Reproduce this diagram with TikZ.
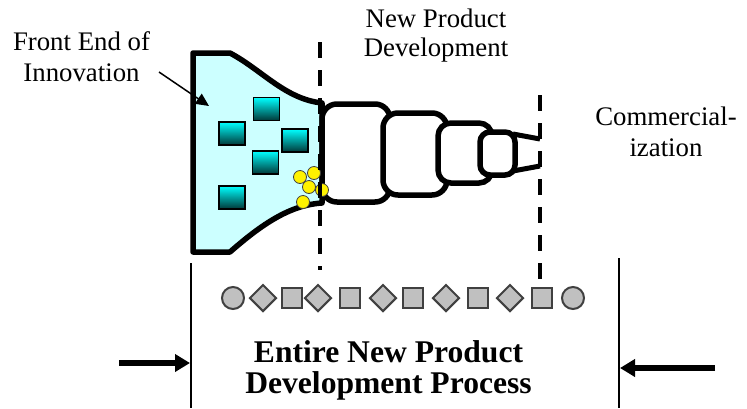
\documentclass[tikz,border=0pt]{standalone}
\usepackage{fontspec}
\setmainfont{Liberation Serif}
\usetikzlibrary{shapes.geometric,arrows.meta}
\definecolor{funnelfill}{RGB}{204,255,255}
\definecolor{tealtop}{RGB}{0,255,255}
\definecolor{tealbot}{RGB}{0,55,55}
\definecolor{shapegray}{RGB}{192,192,192}
\definecolor{shapeedge}{RGB}{64,64,64}
\tikzset{
  lbl/.style={font=\fontsize{26.8}{31}\selectfont, inner sep=0pt, anchor=base},
  biglbl/.style={font=\fontsize{31.6}{36}\selectfont\bfseries, inner sep=0pt, anchor=base},
  stagebox/.style={draw=black, fill=white, line width=5.5pt, rounded corners=15pt},
  tealsq/.style={rectangle, draw=black, line width=1.2pt, minimum width=26pt, minimum height=23pt, inner sep=0pt, top color=tealtop, bottom color=tealbot},
  idea/.style={circle, draw=shapeedge, line width=0.8pt, fill=yellow, minimum size=13pt, inner sep=0pt},
  gshape/.style={draw=shapeedge, fill=shapegray, line width=2pt, inner sep=0pt},
  gcirc/.style={gshape, circle, minimum size=22pt},
  gsq/.style={gshape, rectangle, minimum size=19.5pt},
  gdia/.style={gshape, diamond, minimum size=27pt},
  gate/.style={line width=3.5pt, dash pattern=on 16pt off 12pt},
  bigarrow/.style={line width=6pt, -{Triangle[length=15pt,width=17pt]}},
  thinline/.style={line width=1.5pt}
}
\begin{document}
\begin{tikzpicture}[x=1pt,y=-1pt]
\useasboundingbox (0,0) rectangle (747,408);

% funnel
\draw[fill=funnelfill, line width=5.5pt, line join=round]
  (193,53) -- (230,53) .. controls (262,70) and (285,99) .. (322,103)
  -- (322,203) .. controls (290,205) and (262,224) .. (230,252)
  -- (193,252) -- cycle;

% teal squares
\node[tealsq] (q1) at (266.5,109) {};
\node[tealsq] (q2) at (232,133.5) {};
\node[tealsq] (q3) at (295,140.5) {};
\node[tealsq] (q4) at (265.5,162.5) {};
\node[tealsq] (q5) at (232,197.5) {};

% development stages
\draw[stagebox] (322,104) rectangle (390,202);
\draw[stagebox] (383,113) rectangle (447,195);
\draw[stagebox, rounded corners=13pt] (438,123) rectangle (492,183);
\draw[stagebox, rounded corners=10pt] (480,132) rectangle (515,175);
\coordinate (st1) at (513,134);
\coordinate (st2) at (540,139);
\coordinate (st3) at (513,171);
\coordinate (st4) at (540,166);
\draw[line width=5pt] (st1) -- (st2);
\draw[line width=5pt] (st3) -- (st4);

% ideas
\node[idea] (y1) at (300,177) {};
\node[idea] (y2) at (314,173) {};
\node[idea] (y3) at (309,187) {};
\node[idea] (y4) at (322,190) {};
\node[idea] (y5) at (303,202) {};

% gates
\coordinate (g1t) at (320,42);
\coordinate (g1b) at (320,270);
\coordinate (g2t) at (540,95);
\coordinate (g2b) at (540,280);
\draw[gate] (g1t) -- (g1b);
\draw[gate] (g2t) -- (g2b);

% labels
\node[lbl] (fe1) at (81.5,50) {Front End of};
\node[lbl] (fe2) at (81.5,81) {Innovation};
\node[lbl] (np1) at (436,27) {New Product};
\node[lbl] (np2) at (436,56) {Development};
\node[lbl] (cm1) at (666,125) {Commercial-};
\node[lbl] (cm2) at (666,156) {ization};
\coordinate (ptrS) at (159,72);
\coordinate (ptrE) at (209,106);
\draw[thinline, -{Triangle[length=13pt,width=12pt]}] (ptrS) -- (ptrE);

% shape row
\node[gcirc] (r1) at (233,298) {};
\node[gdia] (r2) at (263,298) {};
\node[gsq] (r3) at (292,298) {};
\node[gdia] (r4) at (318,298) {};
\node[gsq] (r5) at (350,298) {};
\node[gdia] (r6) at (383,298) {};
\node[gsq] (r7) at (413,298) {};
\node[gdia] (r8) at (446,298) {};
\node[gsq] (r9) at (478,298) {};
\node[gdia] (r10) at (510,298) {};
\node[gsq] (r11) at (542,298) {};
\node[gcirc] (r12) at (573,298) {};

% bounds
\coordinate (lbT) at (191,263);
\coordinate (lbB) at (191,408);
\coordinate (rbT) at (619,258);
\coordinate (rbB) at (619,408);
\draw[thinline] (lbT) -- (lbB);
\draw[thinline] (rbT) -- (rbB);
\coordinate (laS) at (119,363);
\coordinate (laE) at (190,363);
\coordinate (raS) at (715,368);
\coordinate (raE) at (620,368);
\draw[bigarrow] (laS) -- (laE);
\draw[bigarrow] (raS) -- (raE);

\node[biglbl] (ep1) at (388.5,362) {Entire New Product};
\node[biglbl] (ep2) at (388.5,393) {Development Process};
\end{tikzpicture}
\end{document}
